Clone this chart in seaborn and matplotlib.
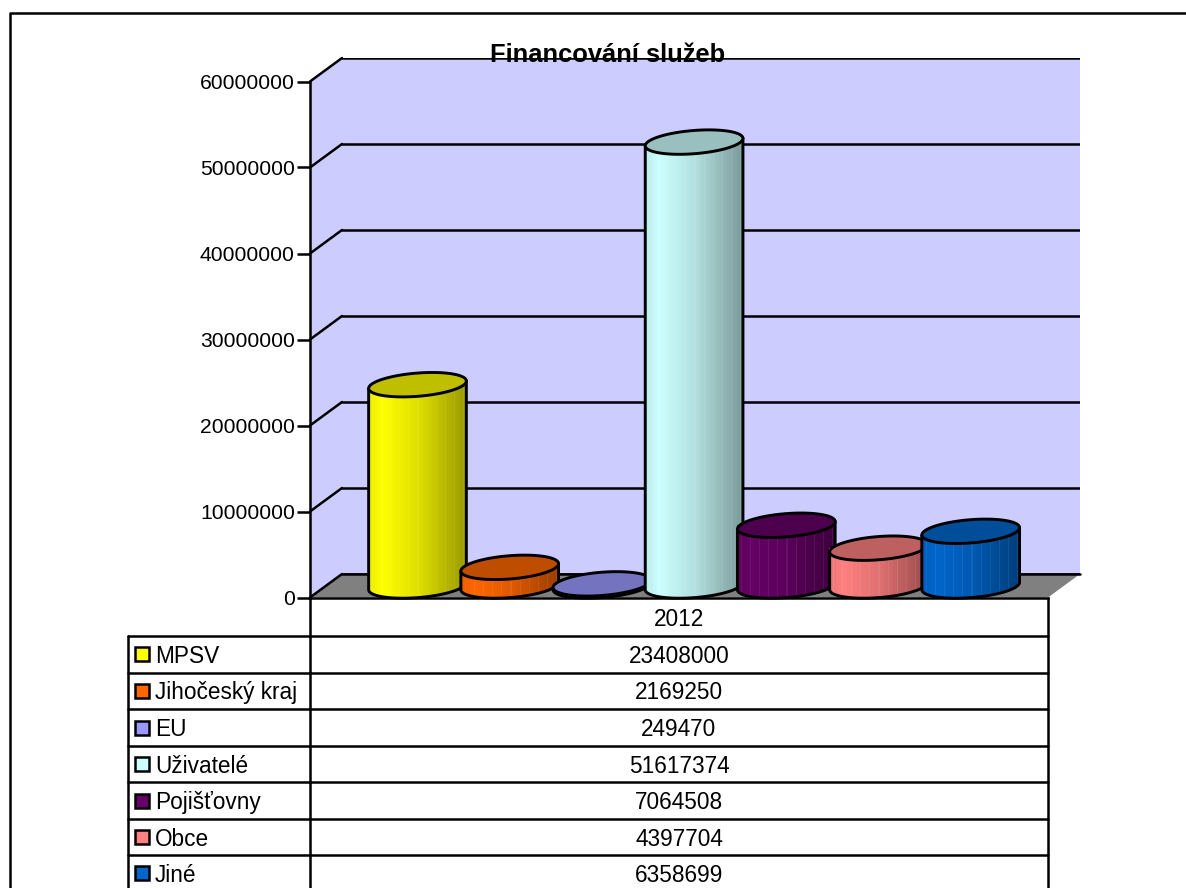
import numpy as np
import pandas as pd
import matplotlib
matplotlib.use('Agg')
import matplotlib.pyplot as plt
from matplotlib.path import Path
from matplotlib.patches import PathPatch, Polygon, Rectangle
from matplotlib.transforms import IdentityTransform
import seaborn as sns

# Chart data
title = 'Financování služeb'
year_label = '2012'
categories = ['MPSV', 'Jihočeský kraj', 'EU', 'Uživatelé', 'Pojišťovny', 'Obce', 'Jiné']
values = [23408000, 2169250, 249470, 51617374, 7064508, 4397704, 6358699]
colors = ['#FFFF00', '#FF6600', '#9999FF', '#CCFFFF', '#660066', '#FF8080', '#0066CC']
y_ticks = [0, 10000000, 20000000, 30000000, 40000000, 50000000, 60000000]

sns.set_theme(style='white')
plt.rcParams['font.family'] = ['Liberation Sans', 'DejaVu Sans']
plt.rcParams['axes.unicode_minus'] = False

W, H = 1186, 888
LW = 1.8
LW_CYL = 2.1
FS = 15.2
FS_TABLE = 16.3
fig = plt.figure(figsize=(W / 100, H / 100), dpi=100, facecolor='white')


def add_axes_px(left, top, right, bottom):
    # axes from pixel box, y measured from the top of the image
    return fig.add_axes([left / W, 1 - bottom / H, (right - left) / W, (bottom - top) / H])


# back wall with gridlines
ax_wall = add_axes_px(342, 58, 1080, 574)
ax_wall.set_facecolor('#CCCCFF')
ax_wall.set_xlim(0, 1)
ax_wall.set_ylim(0, y_ticks[-1])
ax_wall.set_xticks([])
ax_wall.set_yticks(y_ticks)
ax_wall.set_yticklabels([])
ax_wall.grid(axis='y', color='black', linewidth=LW)
ax_wall.tick_params(length=0)
sns.despine(ax=ax_wall, left=True, bottom=True)
ax_wall.set_zorder(0)

# overlay in pixel coordinates: frame, side wall, floor, table
ax_px = fig.add_axes([0, 0, 1, 1])
ax_px.set_xlim(0, W)
ax_px.set_ylim(H, 0)
ax_px.axis('off')
ax_px.set_zorder(1)

# front plane with the value axis
ax = add_axes_px(310, 81.5, 1048, 597.5)
ax.patch.set_alpha(0)
ax.set_xlim(0, 1)
ax.set_ylim(0, y_ticks[-1])
ax.set_xticks([])
ax.set_yticks(y_ticks)
ax.set_yticklabels([str(t) for t in y_ticks], fontsize=FS, color='black')
ax.tick_params(axis='y', left=True, length=9.4, width=LW, color='black', pad=1.5)
sns.despine(ax=ax, right=True, top=True)
ax.spines['left'].set_linewidth(LW)
ax.spines['left'].set_color('black')
ax.spines['bottom'].set_linewidth(LW)
ax.spines['bottom'].set_color('black')
ax.set_zorder(2)

# frame
ax_px.plot([10, 10, W], [H, 13, 13], color='black', lw=LW, solid_capstyle='butt')

# side wall and floor
ax_px.add_patch(Polygon([(310, 597.5), (342, 574), (342, 58), (310, 81.5)], fc='#CCCCFF', ec='none'))
ax_px.add_patch(Polygon([(310, 597.5), (342, 574), (1080, 574), (1048, 597.5)], fc='#808080', ec='none'))
ax_px.plot([342, 1080], [574, 574], color='black', lw=LW)
for t in y_ticks:
    y_px = H - ax.transData.transform((0, t))[1]
    ax_px.plot([310, 342], [y_px, y_px - 23.5], color='black', lw=LW)

# cylinders: seaborn bars give the position and height, the rest is shading
ax_bars = add_axes_px(371.4, 70, 1016.8, 586)
ax_bars.patch.set_alpha(0)
ax_bars.set_zorder(2.5)
df = pd.DataFrame({'source': categories, 'value': values})
sns.barplot(data=df, x='source', y='value', hue='source', palette=colors, dodge=False,
            saturation=1, width=1.063, legend=False, ax=ax_bars, linewidth=0)
ax_bars.set_xlim(-0.5, 6.5)
ax_bars.set_ylim(0, y_ticks[-1])
ax_bars.axis('off')

A_TILT = np.deg2rad(4.6)
B = 11.6


def ellipse_pts(cx, cy, a, t):
    x = cx + a * np.cos(t) * np.cos(A_TILT) - B * np.sin(t) * np.sin(A_TILT)
    y = cy + a * np.cos(t) * np.sin(A_TILT) + B * np.sin(t) * np.cos(A_TILT)
    return np.column_stack([x, y])


def shade_column(n):
    u = np.linspace(0, 1, n)
    s = np.interp(u, [0, 0.14, 0.5, 1], [0.92, 1.0, 0.88, 0.6])
    return s


bars = sorted(ax_bars.patches, key=lambda p: p.get_x())
for i, (bar, col) in enumerate(zip(bars, colors)):
    z = 10 + 4 * i
    bar.set_zorder(z)
    x0, x1 = bar.get_x(), bar.get_x() + bar.get_width()
    (left, base), (right, top) = ax_bars.transData.transform([(x0, 0), (x1, bar.get_height())])
    cx = (left + right) / 2
    a = (right - left) / 2
    rgb = np.array(matplotlib.colors.to_rgb(col))

    # body outline: down the left side, along the lower arc, up the right side
    arc = ellipse_pts(cx, base, a, np.linspace(np.pi, 2 * np.pi, 60))
    top_r = ellipse_pts(cx, top, a, np.array([0.0]))
    top_l = ellipse_pts(cx, top, a, np.array([np.pi]))
    outline = np.vstack([top_l, arc, top_r, top_l])
    body = PathPatch(Path(outline, closed=True), fc=col, ec='none', transform=IdentityTransform(),
                     clip_on=False, zorder=z + 1)
    ax_bars.add_patch(body)

    # stripes and left-to-right shading
    n = int(round(right - left))
    shade = shade_column(n)
    img = rgb[None, :] * shade[:, None]
    stripes = np.arange(n) % 9 == 4
    img[stripes] = img[stripes] * 0.93 + 0.07
    im = ax_bars.imshow(img[None, :, :], extent=(left, right, base - 14, top + 6), aspect='auto',
                        transform=IdentityTransform(), interpolation='nearest', zorder=z + 1)
    im.set_clip_box(fig.bbox)
    im.set_clip_path(body)

    edge = np.vstack([top_l, arc, top_r])
    ax_bars.plot(edge[:, 0], edge[:, 1], color='black', lw=LW_CYL, transform=IdentityTransform(),
                 clip_on=False, zorder=z + 2)

    # top face
    cap = ellipse_pts(cx, top, a, np.linspace(0, 2 * np.pi, 100))
    ax_bars.add_patch(Polygon(cap, closed=True, fc=rgb * 0.75, ec='black', lw=LW_CYL,
                              transform=IdentityTransform(), clip_on=False, zorder=z + 3))
ax_bars.set_xlim(-0.5, 6.5)
ax_bars.set_ylim(0, y_ticks[-1])

# data table under the chart
row_lines = [636, 672.7, 709.3, 746, 782.3, 818.8, 855.2]
row_h = 36.5
ax_px.plot([310, 310], [597.5, H], color='black', lw=LW)
ax_px.plot([1048, 1048], [597.5, H], color='black', lw=LW)
ax_px.plot([128, 128], [636, H], color='black', lw=LW)
ax_px.text(679, 619, year_label, ha='center', va='center', fontsize=FS_TABLE, color='black')
for y_line, name, val, col in zip(row_lines, categories, values, colors):
    ax_px.plot([128, 1048], [y_line, y_line], color='black', lw=LW)
    y_mid = y_line + row_h / 2
    ax_px.add_patch(Rectangle((135, y_mid - 7), 14, 14, fc=col, ec='black', lw=LW))
    ax_px.text(155, y_mid + 2, name, ha='left', va='center', fontsize=FS_TABLE, color='black')
    ax_px.text(679, y_mid + 2, str(val), ha='center', va='center', fontsize=FS_TABLE, color='black')

fig.text(607.5 / W, 1 - 55 / H, title, ha='center', va='center', fontsize=18.4, fontweight='bold',
         color='black', zorder=10)

fig.savefig('out.png', dpi=100)
